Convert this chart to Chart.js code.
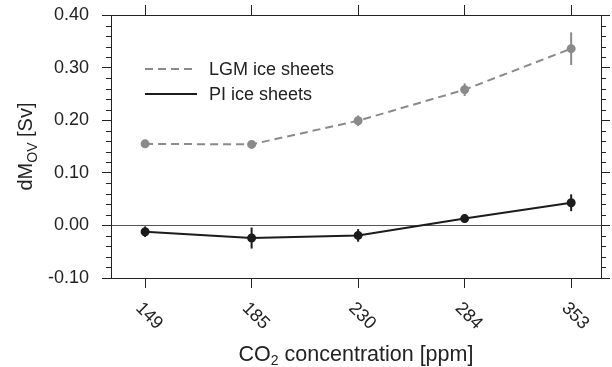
<!DOCTYPE html>
<html>
<head>
<meta charset="utf-8">
<script src="https://cdn.jsdelivr.net/npm/chart.js@4/dist/chart.umd.min.js"></script>
<style>
  html, body { margin: 0; padding: 0; background: #fff; }
  canvas { display: block; }
</style>
</head>
<body>
<canvas id="chart" width="612" height="367"></canvas>
<script>
'use strict';

// ---- data ----
const co2Labels = ['149', '185', '230', '284', '353'];
const lgmValues = [0.155, 0.154, 0.199, 0.258, 0.336];
const lgmErrors = [0.003, 0.003, 0.010, 0.012, 0.031];
const piValues = [-0.012, -0.024, -0.019, 0.013, 0.043];
const piErrors = [0.010, 0.020, 0.012, 0.008, 0.016];
const legendLabels = ['LGM ice sheets', 'PI ice sheets'];

const COLORS = {
  lgm: '#8a8a8a',
  pi: '#1c1c1c',
  axis: '#222',
  zero: '#555',
  text: '#222',
};
const FONT = '"Liberation Sans", Arial, Helvetica, sans-serif';

const toPoints = vals => vals.map((v, i) => ({ x: i, y: v }));

// error bars, drawn under the markers
const errorBars = {
  id: 'errorBars',
  beforeDatasetsDraw(chart) {
    const { ctx, scales: { x, y } } = chart;
    ctx.save();
    chart.data.datasets.forEach(ds => {
      ctx.strokeStyle = ds.borderColor;
      ctx.lineWidth = 2;
      ds.errors.forEach((e, i) => {
        const px = x.getPixelForValue(i);
        ctx.beginPath();
        ctx.moveTo(px, y.getPixelForValue(ds.data[i].y - e));
        ctx.lineTo(px, y.getPixelForValue(ds.data[i].y + e));
        ctx.stroke();
      });
    });
    ctx.restore();
  },
};

// minor ticks, rotated x labels, axis titles and legend
const decorations = {
  id: 'decorations',
  afterDraw(chart) {
    const { ctx, chartArea: area, scales: { x, y } } = chart;
    ctx.save();

    // minor y ticks on both sides
    ctx.strokeStyle = COLORS.axis;
    ctx.lineWidth = 1;
    for (let k = -5; k <= 20; k++) {
      if (k % 5 === 0) continue;
      const py = Math.round(y.getPixelForValue(k * 0.02)) + 0.5;
      ctx.beginPath();
      ctx.moveTo(area.left - 5, py);
      ctx.lineTo(area.left, py);
      ctx.moveTo(area.right, py);
      ctx.lineTo(area.right + 5, py);
      ctx.stroke();
    }

    // x tick labels, slanted downwards to the right
    ctx.fillStyle = COLORS.text;
    ctx.font = '18px ' + FONT;
    ctx.textAlign = 'center';
    ctx.textBaseline = 'middle';
    co2Labels.forEach((lab, i) => {
      ctx.save();
      ctx.translate(x.getPixelForValue(i) + 4, area.bottom + 38);
      ctx.rotate(Math.PI / 4);
      ctx.fillText(lab, 0, 0);
      ctx.restore();
    });

    // x title with subscript
    ctx.textAlign = 'left';
    ctx.textBaseline = 'alphabetic';
    const xParts = [['CO', 21.5, 0], ['2', 14, 4], [' concentration [ppm]', 21.5, 0]];
    let w = 0;
    xParts.forEach(([t, s]) => { ctx.font = s + 'px ' + FONT; w += ctx.measureText(t).width; });
    let cx = (area.left + area.right) / 2 - w / 2;
    xParts.forEach(([t, s, dy]) => {
      ctx.font = s + 'px ' + FONT;
      ctx.fillText(t, cx, 361 + dy);
      cx += ctx.measureText(t).width;
    });

    // y title with subscript, rotated
    const yParts = [['dM', 20, 0], ['OV', 14, 5], [' [Sv]', 20, 0]];
    w = 0;
    yParts.forEach(([t, s]) => { ctx.font = s + 'px ' + FONT; w += ctx.measureText(t).width; });
    ctx.save();
    ctx.translate(32, (area.top + area.bottom) / 2);
    ctx.rotate(-Math.PI / 2);
    cx = -w / 2;
    yParts.forEach(([t, s, dy]) => {
      ctx.font = s + 'px ' + FONT;
      ctx.fillText(t, cx, dy);
      cx += ctx.measureText(t).width;
    });
    ctx.restore();

    // legend
    ctx.font = '18px ' + FONT;
    chart.data.datasets.forEach((ds, i) => {
      const ly = 69 + i * 25;
      ctx.strokeStyle = ds.borderColor;
      ctx.lineWidth = 2;
      ctx.setLineDash(ds.borderDash || []);
      ctx.beginPath();
      ctx.moveTo(145, ly);
      ctx.lineTo(197, ly);
      ctx.stroke();
      ctx.setLineDash([]);
      ctx.fillStyle = COLORS.text;
      ctx.fillText(legendLabels[i], 209, ly + 6);
    });

    ctx.restore();
  },
};

const xAxis = position => ({
  type: 'linear',
  position,
  min: -0.32,
  max: 4.28,
  afterBuildTicks: s => { s.ticks = co2Labels.map((_, i) => ({ value: i })); },
  afterFit: s => {
    s.height = position === 'bottom' ? 89 : 15;
    s.paddingLeft = 0; s.paddingRight = 0;
  },
  ticks: { display: false },
  grid: { drawOnChartArea: false, tickLength: 10, color: COLORS.axis },
  border: { display: true, color: COLORS.axis, width: 1 },
});

new Chart(document.getElementById('chart'), {
  type: 'line',
  data: {
    datasets: [
      {
        label: legendLabels[0],
        data: toPoints(lgmValues),
        errors: lgmErrors,
        borderColor: COLORS.lgm,
        backgroundColor: COLORS.lgm,
        borderWidth: 2,
        borderDash: [8, 5],
        pointRadius: 3.5,
        tension: 0,
      },
      {
        label: legendLabels[1],
        data: toPoints(piValues),
        errors: piErrors,
        borderColor: COLORS.pi,
        backgroundColor: COLORS.pi,
        borderWidth: 2,
        pointRadius: 3.5,
        tension: 0,
      },
    ],
  },
  options: {
    responsive: false,
    animation: false,
    layout: { padding: 0 },
    plugins: { legend: { display: false }, tooltip: { enabled: false } },
    scales: {
      x: xAxis('bottom'),
      xTop: xAxis('top'),
      y: {
        position: 'left',
        min: -0.1,
        max: 0.4,
        afterFit: s => { s.width = 111; s.paddingTop = 0; s.paddingBottom = 0; },
        ticks: {
          stepSize: 0.1,
          padding: 13,
          color: COLORS.text,
          font: { family: FONT, size: 18 },
          callback: v => v.toFixed(2),
        },
        grid: {
          drawOnChartArea: true,
          tickLength: 9,
          tickColor: COLORS.axis,
          color: ctx => (ctx.tick && Math.abs(ctx.tick.value) < 1e-9 ? COLORS.zero : 'rgba(0,0,0,0)'),
        },
        border: { display: true, color: COLORS.axis, width: 1 },
      },
      yRight: {
        position: 'right',
        min: -0.1,
        max: 0.4,
        afterFit: s => { s.width = 11; s.paddingTop = 0; s.paddingBottom = 0; },
        ticks: { display: false, stepSize: 0.1 },
        grid: { drawOnChartArea: false, tickLength: 9, color: COLORS.axis },
        border: { display: true, color: COLORS.axis, width: 1 },
      },
    },
  },
  plugins: [errorBars, decorations],
});
</script>
</body>
</html>
